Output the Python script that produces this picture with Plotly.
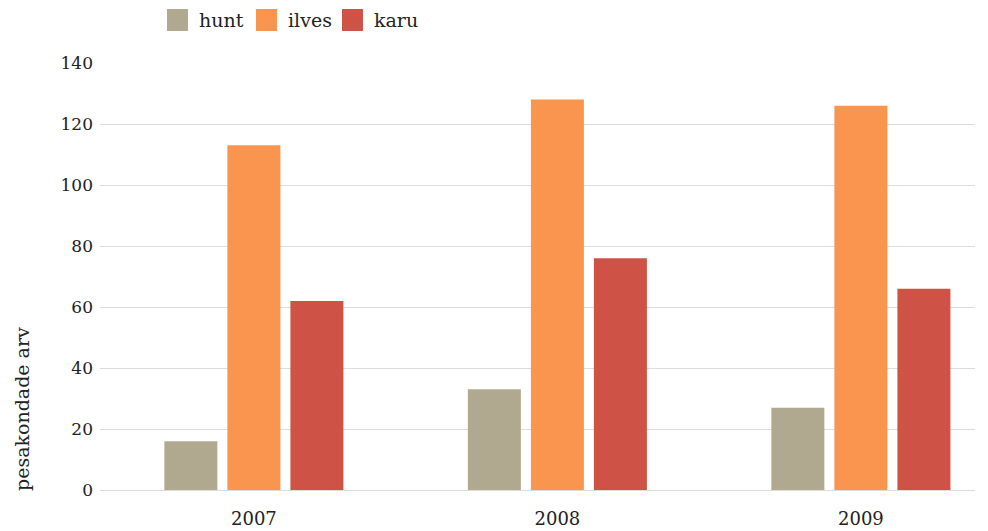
import plotly.graph_objects as go

years = ["2007", "2008", "2009"]
series_names = ["hunt", "ilves", "karu"]
hunt = [16, 33, 27]
ilves = [113, 128, 126]
karu = [62, 76, 66]
colors = ["#b1a98f", "#fa9550", "#cf5246"]
y_ticks = [0, 20, 40, 60, 80, 100, 120, 140]
y_title = "pesakondade arv"

FONT = "DejaVu Serif"
fig = go.Figure()
for name, vals, col in zip(series_names, [hunt, ilves, karu], colors):
    fig.add_trace(go.Bar(x=years, y=vals, name=name, marker=dict(color=col, line=dict(width=0)),
                         showlegend=False))

# manual legend (larger swatches)
shapes = []
annotations = []
legend_x = [167, 256, 342]
for i, (name, col) in enumerate(zip(series_names, colors)):
    x0 = legend_x[i]
    shapes.append(dict(type="rect", xref="paper", yref="paper",
                       x0=(x0 - 100) / 875, x1=(x0 + 21 - 100) / 875,
                       y0=(490 - 31) / 427, y1=(490 - 9) / 427,
                       fillcolor=col, line=dict(width=0), layer="above"))
    annotations.append(dict(text=name, xref="paper", yref="paper",
                            x=(x0 + 30 - 100) / 875, y=(490 - 20) / 427,
                            xanchor="left", yanchor="middle", showarrow=False,
                            font=dict(family=FONT, size=19, color="#222")))

annotations.append(dict(text=y_title, xref="paper", yref="paper", x=(22 - 100) / 875, y=0,
                        xanchor="center", yanchor="bottom", textangle=-90, showarrow=False,
                        yshift=-3,
                        font=dict(family=FONT, size=19, color="#222")))

fig.update_layout(
    width=980, height=523,
    margin=dict(l=92, r=13, t=55, b=41, autoexpand=False),
    paper_bgcolor="white", plot_bgcolor="white",
    barmode="group", bargap=0.377, bargroupgap=0.159,
    font=dict(family=FONT, size=17, color="#222"),
    shapes=shapes, annotations=annotations,
    showlegend=False,
)
fig.update_xaxes(type="category", range=[-0.507, 2.376], showgrid=False, zeroline=False,
                 showline=False, ticks="", ticklabelstandoff=16, automargin=False,
                 tickfont=dict(family=FONT, size=18, color="#222"))
fig.update_yaxes(range=[0, 140], tickvals=y_ticks, showgrid=True, gridcolor="#dcdcdc",
                 gridwidth=1, zeroline=True, zerolinecolor="#dcdcdc", zerolinewidth=1,
                 showline=False, ticks="", ticklabelstandoff=6, automargin=False,
                 tickfont=dict(family=FONT, size=17, color="#222"))

fig.write_html("out.html")
